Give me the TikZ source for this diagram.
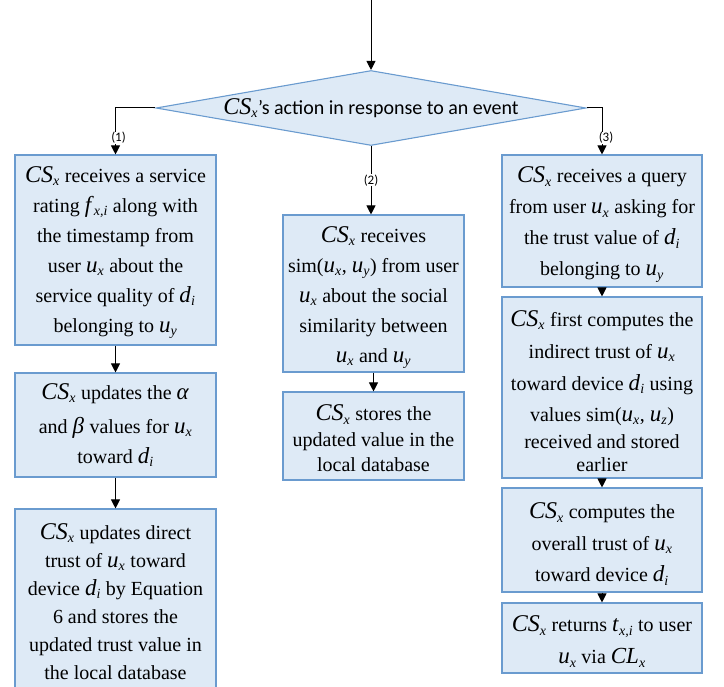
\documentclass[tikz,border=0pt]{standalone}
\usepackage{fontspec}
\setmainfont{Liberation Serif}
\newfontfamily\bodyfont{Liberation Serif}
\newfontfamily\lblfont{Carlito}
\usetikzlibrary{shapes.geometric,arrows.meta}

\definecolor{boxfill}{HTML}{DEEAF6}
\definecolor{boxline}{HTML}{6A9BCF}

% italic symbol (slightly enlarged) with italic subscript
\newcommand{\sym}[2]{{\fontsize{23}{23}\selectfont\textit{#1}}\textsubscript{\textit{#2}}}
\newcommand{\CSx}{{\bodyfont\fontsize{24}{24}\selectfont\textit{CS}}\textsubscript{\bodyfont\textit{x}}}
% invisible strut that pushes the text block of a box slightly down
\newcommand{\topgap}[1]{\rule{0pt}{#1}}

\tikzset{
  stepbox/.style={draw=boxline, fill=boxfill, line width=1.1pt, align=center,
    inner sep=0pt, font=\bodyfont\fontsize{20}{30}\selectfont},
  flow/.style={line width=1pt, -{Triangle[length=9pt,width=9pt]}},
  tag/.style={font=\lblfont\fontsize{13}{13}\selectfont, fill=white, inner sep=0.5pt}
}

\begin{document}
\begin{tikzpicture}[x=1pt,y=-1pt]
\useasboundingbox (0,0) rectangle (724,687);

% decision
\node[draw=boxline, fill=boxfill, line width=1.1pt, shape=diamond, aspect=5.73,
  minimum width=430pt, minimum height=75pt, inner sep=0pt,
  font=\lblfont\fontsize{20}{20}\selectfont]
  (act) at (371,108) {\CSx’s action in response to an event};
\coordinate (entry) at (371,0);

% branch (1)
\node[stepbox, minimum width=201pt, minimum height=190pt] (l1) at (115.5,250)
  {\topgap{21pt}\CSx{} receives a service\\ rating \sym{f}{x,i} along with\\ the timestamp from\\
   user \sym{u}{x} about the\\ service quality of \sym{d}{i}\\ belonging to \sym{u}{y}};
\node[stepbox, minimum width=201pt, minimum height=104pt] (l2) at (115.5,425)
  {\CSx{} updates the \sym{α}{}\\[4pt] and \sym{β}{} values for \sym{u}{x}\\ toward \sym{d}{i}};
\node[stepbox, minimum width=201pt, minimum height=186pt,
  font=\bodyfont\fontsize{20}{28}\selectfont] (l3) at (115.5,602)
  {\CSx{} updates direct\\ trust of \sym{u}{x} toward\\ device \sym{d}{i} by Equation\\
   6 and stores the\\ updated trust value in\\ the local database};

% branch (2)
\node[stepbox, minimum width=181pt, minimum height=157pt] (m1) at (373.5,293.5)
  {\topgap{24pt}\CSx{} receives\\ sim(\sym{u}{x}, \sym{u}{y}) from user\\ \sym{u}{x} about the social\\
   similarity between\\ \sym{u}{x} and \sym{u}{y}};
\node[stepbox, minimum width=181pt, minimum height=88pt,
  font=\bodyfont\fontsize{20}{25.5}\selectfont] (m2) at (373.5,436)
  {\topgap{21pt}\CSx{} stores the\\ updated value in the\\ local database};

% branch (3)
\node[stepbox, minimum width=200pt, minimum height=132pt,
  font=\bodyfont\fontsize{20}{31}\selectfont] (r1) at (602,221)
  {\topgap{23pt}\CSx{} receives a query\\ from user \sym{u}{x} asking for\\ the trust value of \sym{d}{i}\\
   belonging to \sym{u}{y}};
\node[stepbox, minimum width=200pt, minimum height=181pt,
  font=\bodyfont\fontsize{20}{29}\selectfont] (r2) at (602,387.5)
  {\topgap{23pt}\CSx{} first computes the\\[3pt] indirect trust of \sym{u}{x}\\[3pt] toward device \sym{d}{i} using\\[2pt]
   values sim(\sym{u}{x}, \sym{u}{z})\\[-2pt] received and stored\\[-6pt] earlier};
\node[stepbox, minimum width=200pt, minimum height=104pt,
  font=\bodyfont\fontsize{20}{31.5}\selectfont] (r3) at (602,540)
  {\topgap{24pt}\CSx{} computes the\\ overall trust of \sym{u}{x}\\ toward device \sym{d}{i}};
\node[stepbox, minimum width=200pt, minimum height=70pt,
  font=\bodyfont\fontsize{20}{32}\selectfont] (r4) at (602,638)
  {\topgap{23pt}\CSx{} returns \sym{t}{x,i} to user\\ \sym{u}{x} via \sym{CL}{x}};

% connectors
\draw[flow] (entry) -- (act.north);
\draw[flow] (act.west) -| node[tag, pos=0.82, xshift=3pt] {(1)} (l1.north);
\draw[flow] (act.south) -- node[tag, pos=0.5] {(2)} (act.south |- m1.north);
\draw[flow] (act.east) -| node[tag, pos=0.82, xshift=4pt] {(3)} (r1.north);
\draw[flow] (l1) -- (l2);
\draw[flow] (l2) -- (l3);
\draw[flow] (m1) -- (m2);
\draw[flow] (r1) -- (r2);
\draw[flow] (r2) -- (r3);
\draw[flow] (r3) -- (r4);
\end{tikzpicture}
\end{document}
